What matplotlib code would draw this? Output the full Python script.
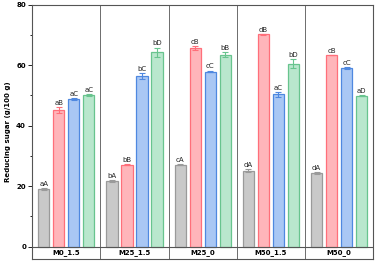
import matplotlib.pyplot as plt
import numpy as np
from matplotlib.ticker import MultipleLocator

# data
groups = ['M0_1.5', 'M25_1.5', 'M25_0', 'M50_1.5', 'M50_0']
series_vals = [
    [19.1, 21.6, 27.1, 25.1, 24.3],   # gray
    [45.2, 27.1, 65.6, 70.2, 63.3],   # red
    [48.7, 56.4, 57.9, 50.4, 59.1],   # blue
    [50.1, 64.3, 63.4, 60.4, 49.9],   # green
]
series_err = [
    [0.3, 0.4, 0.2, 0.4, 0.2],
    [0.9, 0.2, 0.7, 0.2, 0.1],
    [0.3, 0.9, 0.3, 0.8, 0.3],
    [0.2, 1.5, 0.8, 1.5, 0.2],
]
letters = [
    ['aA', 'bA', 'cA', 'dA', 'dA'],
    ['aB', 'bB', 'cB', 'dB', 'cB'],
    ['aC', 'bC', 'cC', 'aC', 'cC'],
    ['aC', 'bD', 'bB', 'bD', 'aD'],
]

fills = ['#c9c9c9', '#ffb5ba', '#a9c7f4', '#b9e7cd']
edges = ['#9a9a9a', '#ff6f7a', '#4f88e0', '#68c48e']

fig = plt.figure(figsize=(3.75, 2.61), dpi=100)
ax = fig.add_axes([0.086, 0.008, 0.909, 0.974])

x = np.arange(len(groups))
offsets = [-0.33, -0.11, 0.11, 0.33]
width = 0.165

for k in range(4):
    xs = x + offsets[k]
    ax.bar(xs, series_vals[k], width, color=fills[k], edgecolor=edges[k],
           linewidth=0.9, zorder=2)
    ax.errorbar(xs, series_vals[k], yerr=series_err[k], fmt='none',
                ecolor=edges[k], elinewidth=0.8, capsize=2.5, capthick=0.8, zorder=3)
    for xi, v, e, t in zip(xs, series_vals[k], series_err[k], letters[k]):
        ax.text(xi, v + e + 0.4, t, ha='center', va='bottom', fontsize=5,
                color='#222222')

# group separators and baseline
for i in range(1, len(groups)):
    ax.axvline(i - 0.5, color='#555555', linewidth=0.6, zorder=1)
ax.axhline(0, color='#555555', linewidth=0.8, zorder=4)

for i, g in enumerate(groups):
    ax.text(i, -2.0, g, ha='center', va='center', fontsize=5, fontweight='bold')

ax.set_xlim(-0.5, len(groups) - 0.5)
ax.set_ylim(-4.1, 80)
ax.set_xticks([])
ax.set_yticks([0, 20, 40, 60, 80])
ax.yaxis.set_minor_locator(MultipleLocator(10))
ax.tick_params(axis='y', which='major', direction='out', length=3, width=0.6,
               labelsize=5, pad=1.5)
ax.tick_params(axis='y', which='minor', direction='out', length=1.5, width=0.6)
for lab in ax.get_yticklabels():
    lab.set_fontweight('bold')
ax.set_ylabel('Reducing sugar (g/100 g)', fontsize=5, fontweight='bold', labelpad=4)

for s in ax.spines.values():
    s.set_color('#555555')
    s.set_linewidth(0.8)

fig.savefig('out.png', dpi=100)
